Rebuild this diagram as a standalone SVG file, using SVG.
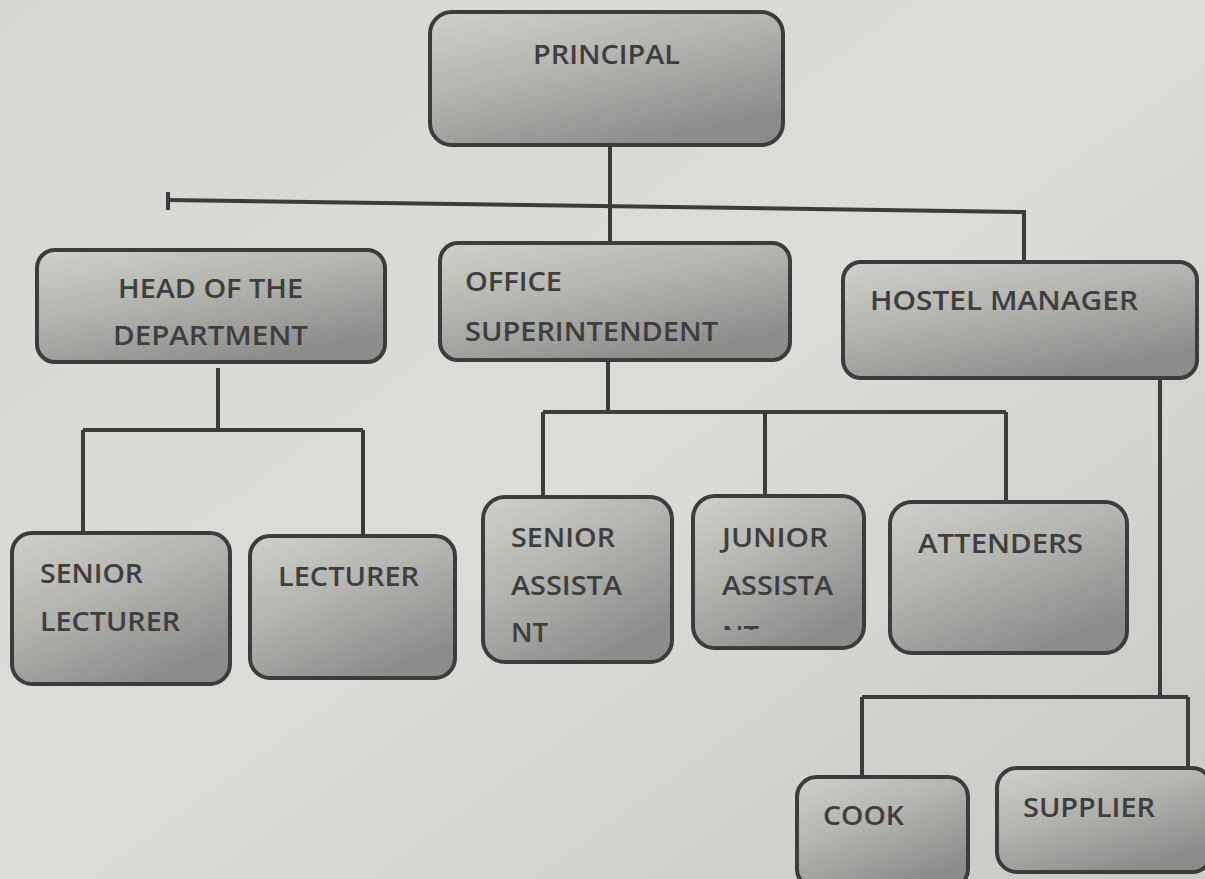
<svg xmlns="http://www.w3.org/2000/svg" width="1205" height="879" viewBox="0 0 1205 879">
  <defs>
    <linearGradient id="bg" x1="0" y1="0" x2="1" y2="1">
      <stop offset="0" stop-color="#d6d6d2"/>
      <stop offset="0.5" stop-color="#dcdcd8"/>
      <stop offset="1" stop-color="#c9c9c5"/>
    </linearGradient>
    <linearGradient id="box" x1="0" y1="0" x2="0.6" y2="1">
      <stop offset="0" stop-color="#cfcfcb"/>
      <stop offset="0.45" stop-color="#b5b5b2"/>
      <stop offset="1" stop-color="#8c8c8a"/>
    </linearGradient>
    <clipPath id="jclip"><rect x="693" y="496" width="171" height="134"/></clipPath>
    <style>
      .node rect { fill: url(#box); stroke: #3c3c3c; stroke-width: 4; }
      .node text { font-family: "Open Sans", "Liberation Sans", sans-serif; font-weight: 600; font-size: 27px; fill: #3e3e3e; }
      .conn { fill: none; stroke: #3c3c3c; stroke-width: 4; }
    </style>
  </defs>
  <rect x="0" y="0" width="1205" height="879" fill="url(#bg)"/>

  <g id="connectors" class="conn">
    <path d="M610 145 V243"/>
    <path d="M168 200 L1024 212 V262"/>
    <path d="M168 192 V210"/>
    <path d="M218 368 V430 M83 430 H363 M83 430 V533 M363 430 V536"/>
    <path d="M608 360 V412 M543 412 H1006 M543 412 V497 M765 412 V497 M1006 412 V502"/>
    <path d="M1160 378 V697 M862 697 H1188 M862 697 V777 M1188 697 V768"/>
  </g>

  <g id="principal" class="node">
    <rect x="430" y="12" width="353" height="133" rx="22"/>
    <text x="533" y="64" textLength="147" lengthAdjust="spacingAndGlyphs">PRINCIPAL</text>
  </g>
  <g id="head" class="node">
    <rect x="37" y="250" width="348" height="112" rx="18"/>
    <text x="118" y="298" textLength="185" lengthAdjust="spacingAndGlyphs">HEAD OF THE</text>
    <text x="113" y="345" textLength="195" lengthAdjust="spacingAndGlyphs">DEPARTMENT</text>
  </g>
  <g id="office" class="node">
    <rect x="440" y="243" width="350" height="117" rx="18"/>
    <text x="465" y="291" textLength="97" lengthAdjust="spacingAndGlyphs">OFFICE</text>
    <text x="465" y="341" textLength="253" lengthAdjust="spacingAndGlyphs">SUPERINTENDENT</text>
  </g>
  <g id="hostel" class="node">
    <rect x="843" y="262" width="354" height="116" rx="18"/>
    <text x="870" y="310" textLength="268" lengthAdjust="spacingAndGlyphs">HOSTEL MANAGER</text>
  </g>
  <g id="senior-lecturer" class="node">
    <rect x="12" y="533" width="218" height="151" rx="20"/>
    <text x="40" y="583" textLength="103" lengthAdjust="spacingAndGlyphs">SENIOR</text>
    <text x="40" y="631" textLength="140" lengthAdjust="spacingAndGlyphs">LECTURER</text>
  </g>
  <g id="lecturer" class="node">
    <rect x="250" y="536" width="205" height="142" rx="20"/>
    <text x="278" y="586" textLength="141" lengthAdjust="spacingAndGlyphs">LECTURER</text>
  </g>
  <g id="senior-assistant" class="node">
    <rect x="483" y="497" width="189" height="165" rx="22"/>
    <text x="511" y="547" textLength="104" lengthAdjust="spacingAndGlyphs">SENIOR</text>
    <text x="511" y="595" textLength="111" lengthAdjust="spacingAndGlyphs">ASSISTA</text>
    <text x="511" y="642" textLength="37" lengthAdjust="spacingAndGlyphs">NT</text>
  </g>
  <g id="junior-assistant" class="node">
    <rect x="693" y="496" width="171" height="152" rx="22"/>
    <text x="722" y="547" textLength="106" lengthAdjust="spacingAndGlyphs">JUNIOR</text>
    <text x="722" y="595" textLength="111" lengthAdjust="spacingAndGlyphs">ASSISTA</text>
    <text x="722" y="645" textLength="37" lengthAdjust="spacingAndGlyphs" clip-path="url(#jclip)">NT</text>
  </g>
  <g id="attenders" class="node">
    <rect x="890" y="502" width="237" height="151" rx="22"/>
    <text x="918" y="553" textLength="165" lengthAdjust="spacingAndGlyphs">ATTENDERS</text>
  </g>
  <g id="cook" class="node">
    <rect x="797" y="777" width="171" height="112" rx="20"/>
    <text x="823" y="825" textLength="81" lengthAdjust="spacingAndGlyphs">COOK</text>
  </g>
  <g id="supplier" class="node">
    <rect x="997" y="768" width="215" height="104" rx="20"/>
    <text x="1023" y="817" textLength="132" lengthAdjust="spacingAndGlyphs">SUPPLIER</text>
  </g>
</svg>
